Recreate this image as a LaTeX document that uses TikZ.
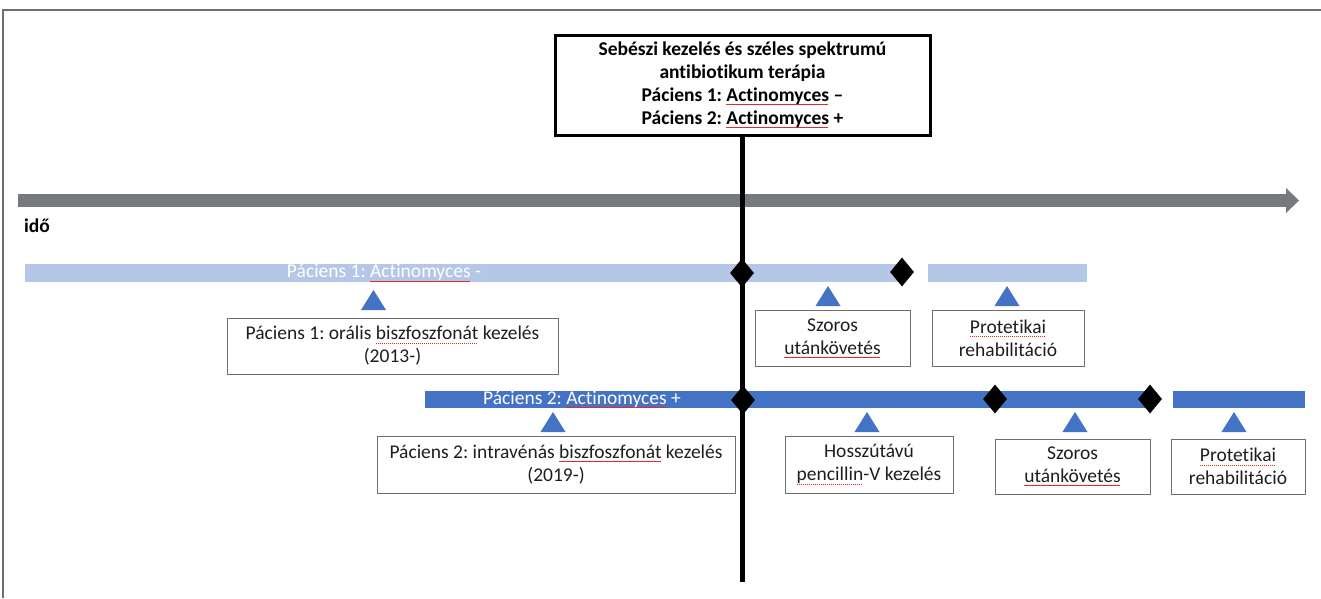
\documentclass[tikz,border=0pt]{standalone}
\usepackage{fontspec}
\setmainfont{Carlito}[Ligatures=NoCommon]
\usetikzlibrary{shapes.geometric}
\definecolor{lblue}{RGB}{180,199,231}
\definecolor{dblue}{RGB}{68,114,196}
\definecolor{axisgray}{RGB}{118,121,126}
\definecolor{boxline}{RGB}{110,110,110}
\definecolor{txt}{RGB}{30,30,30}
\definecolor{squig}{RGB}{230,40,40}
\newsavebox\spkbox
\newcommand\spk[1]{\sbox\spkbox{#1}\rlap{\textcolor{squig}{\raisebox{-3.5pt}{\hbox to\wd\spkbox{\leaders\hbox{\rule{1.4pt}{0.7pt}\hspace{0.6pt}}\hfill}}}}\usebox\spkbox}
\newcommand\marktri[2]{\fill[dblue] (#1,#2) ++(-12.5,0) -- ++(12.5,-20) -- ++(12.5,20) -- cycle;}
\frenchspacing
\begin{document}
\begin{tikzpicture}[x=1pt,y=-1pt,
  box/.style={draw=boxline,line width=1pt,fill=white,align=center,inner sep=0pt,text=txt,font=\fontsize{19.5}{23}\selectfont},
  bartext/.style={text=white,inner sep=0pt,font=\fontsize{19.5}{23}\selectfont},
  diam/.style={diamond,fill=black,inner sep=0pt,minimum width=24,minimum height=29}]
\useasboundingbox (0,0) rectangle (1321,598);
\fill[white] (0,0) rectangle (1321,598);
\draw[line width=1.5pt, boxline] (3,598) -- (3,10) -- (1321,10);
% time axis
\fill[axisgray] (18,194) rectangle (1287,207);
\fill[axisgray] (1286,188) -- (1299,200.5) -- (1286,213) -- cycle;
\node[anchor=west,inner sep=0pt,font=\fontsize{19.5}{23}\selectfont\bfseries,text=black] (ido) at (24,226) {idő};
% bars
\fill[lblue] (25,264) rectangle (902,282);
\fill[lblue] (928,264) rectangle (1087,282);
\fill[dblue] (425,391) rectangle (1150,408);
\fill[dblue] (1173,391) rectangle (1305,408);
\node[bartext] (b1) at (384,273) {Páciens 1: \spk{Actinomyces} -};
\node[bartext] (b2) at (582,399.5) {Páciens 2: \spk{Actinomyces} +};
% top box and vertical line
\node[box, draw=black, line width=3pt, font=\fontsize{19.5}{23}\selectfont\bfseries, text=black, minimum width=375, minimum height=100] (top) at (742.5,85) {Sebészi kezelés és széles spektrumú\\antibiotikum terápia\\Páciens 1: \spk{Actinomyces} –\\Páciens 2: \spk{Actinomyces} +};
\coordinate (vbot) at (742.5,582);
\draw[line width=5.5pt] (top.south) -- (vbot);
% diamonds
\node[diam] (d1) at (742,273) {};
\node[diam] (d2) at (902,272) {};
\node[diam] (d3) at (743,400) {};
\node[diam] (d4) at (995,399) {};
\node[diam] (d5) at (1150,399) {};
% triangles
\marktri{373.5}{310}
\marktri{828}{306}
\marktri{1007}{306}
\marktri{553}{432}
\marktri{867}{432}
\marktri{1075}{432}
\marktri{1234}{432}
% boxes
\node[box, minimum width=331, minimum height=56] (p1) at (392.5,346) {Páciens 1: orális \spk{biszfoszfonát} kezelés\\(2013-)};
\node[box, minimum width=155, minimum height=56] (sz1) at (832.5,338) {Szoros\\\spk{utánkövetés}};
\node[box, minimum width=152, minimum height=56] (pr1) at (1008,338) {\spk{Protetikai}\\rehabilitáció};
\node[box, minimum width=358, minimum height=57] (p2) at (556,464.5) {Páciens 2: intravénás \spk{biszfoszfonát} kezelés\\(2019-)};
\node[box, minimum width=168, minimum height=57] (hv) at (869,464.5) {Hosszútávú\\\spk{pencillin}-V kezelés};
\node[box, minimum width=155, minimum height=55] (sz2) at (1072.5,466.5) {Szoros\\\spk{utánkövetés}};
\node[box, minimum width=134, minimum height=55] (pr2) at (1238,466.5) {\spk{Protetikai}\\rehabilitáció};
\end{tikzpicture}
\end{document}
